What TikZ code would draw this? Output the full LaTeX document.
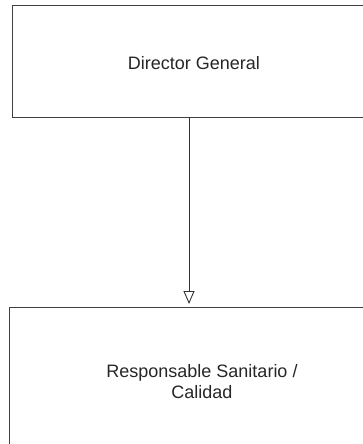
\documentclass[tikz,border=0pt]{standalone}
\usepackage{fontspec}
\setmainfont{Liberation Sans}
\usetikzlibrary{arrows.meta}
\begin{document}
\begin{tikzpicture}[x=1pt,y=-1pt,
  boxline/.style={draw=black!75,line width=0.9pt},
  lbl/.style={font=\fontsize{18}{21}\selectfont,text=black!85,align=center},
  conn/.style={draw=black!80,line width=0.9pt,-{Triangle[open,width=11pt,length=13pt]}}]
\useasboundingbox (0,0) rectangle (363,444);
\clip (0,0) rectangle (363,444);
\draw[boxline] (380,5) -- (12,5) -- (12,117) -- (380,117);
\draw[boxline] (380,307) -- (9,307) -- (9,460);
\node[lbl] (dg) at (194,63) {Director General};
\node[lbl] (rs) at (202,382) {Responsable Sanitario /\\Calidad};
\coordinate (a1) at (189,117);
\coordinate (a2) at (189,304);
\draw[conn] (a1) -- (a2);
\end{tikzpicture}
\end{document}
